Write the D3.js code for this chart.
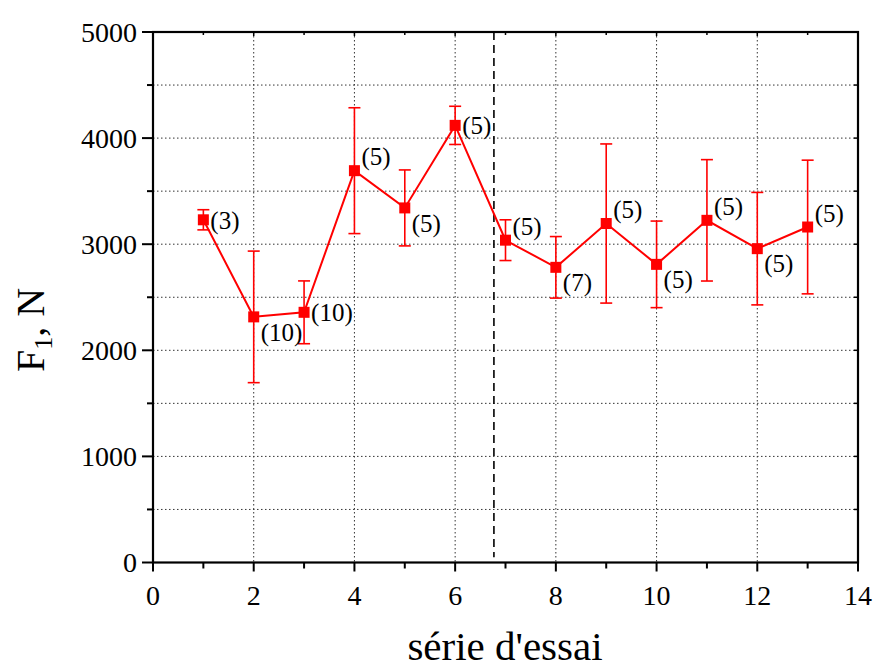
<!DOCTYPE html>
<html><head><meta charset="utf-8">
<script src="https://cdn.jsdelivr.net/npm/d3@7"></script>
<style>body{margin:0;background:#fff}svg{display:block}</style>
</head><body>
<svg id="c" width="876" height="669" font-family="'Liberation Serif', 'Times New Roman', serif"></svg>
<script>
const series = [1,2,3,4,5,6,7,8,9,10,11,12,13];
const meanF1 = [3230,2315,2358,3693,3342,4120,3038,2782,3195,2810,3225,2958,3162];
const errF1  = [95,620,296,593,358,180,192,290,750,408,572,530,630];
const nLabels = ["(3)","(10)","(10)","(5)","(5)","(5)","(5)","(7)","(5)","(5)","(5)","(5)","(5)"];
const labelPlace = ["r","br","r","ar","br","r","ar","br","ar","br","ar","br","ar"];
const xTicks = [0,2,4,6,8,10,12,14];
const yTicks = [0,1000,2000,3000,4000,5000];
const dividerX = 6.77;
const xTitle = "série d'essai";

const FF = "Liberation Serif";
const svg = d3.select("#c");
const L=153, R=858, T=32, B=562.5;
const x = d3.scaleLinear().domain([0,14]).range([L,R]);
const y = d3.scaleLinear().domain([0,5000]).range([B,T]);

// grid
const g = svg.append("g");
g.selectAll(".gx").data(xTicks.filter(v=>v>0&&v<14)).join("line")
  .attr("x1",d=>x(d)).attr("x2",d=>x(d)).attr("y1",T).attr("y2",B)
  .attr("stroke","#333").attr("stroke-width",1).attr("stroke-dasharray","1.5,2.5");
g.selectAll(".gy").data(d3.range(500,5000,500)).join("line")
  .attr("x1",L).attr("x2",R).attr("y1",d=>y(d)).attr("y2",d=>y(d))
  .attr("stroke","#333").attr("stroke-width",1).attr("stroke-dasharray","1.5,2.5");

// divider
svg.append("line").attr("x1",x(dividerX)).attr("x2",x(dividerX)).attr("y1",y(5000)).attr("y2",y(50))
  .attr("stroke","#000").attr("stroke-width",1.6).attr("stroke-dasharray","8,5");

// bottom axis
const bt = svg.append("g").attr("transform",`translate(0,${B})`);
bt.selectAll("line").data(d3.range(0,15,1)).join("line")
  .attr("x1",d=>x(d)).attr("x2",d=>x(d)).attr("y1",0).attr("y2",d=>d%2===0?9:6)
  .attr("stroke","#000").attr("stroke-width",2);
bt.selectAll("text").data(xTicks).join("text")
  .attr("x",d=>x(d)).attr("y",42).attr("text-anchor","middle")
  .attr("font-family",FF).attr("font-size",28).text(d=>d);

// left axis
const lt = svg.append("g");
lt.selectAll("line").data(d3.range(0,5001,500)).join("line")
  .attr("x1",d=>d%1000===0?L-11:L-6).attr("x2",L).attr("y1",d=>y(d)).attr("y2",d=>y(d))
  .attr("stroke","#000").attr("stroke-width",2);
lt.selectAll("text").data(yTicks).join("text")
  .attr("x",L-16).attr("y",d=>y(d)).attr("dy","0.34em").attr("text-anchor","end")
  .attr("font-family",FF).attr("font-size",28).text(d=>d);

// top/right inward ticks
svg.append("g").selectAll("line").data(d3.range(1,14,1)).join("line")
  .attr("x1",d=>x(d)).attr("x2",d=>x(d)).attr("y1",T).attr("y2",d=>d%2===0?T+4:T+3)
  .attr("stroke","#000").attr("stroke-width",1.5);
svg.append("g").selectAll("line").data(d3.range(500,5000,500)).join("line")
  .attr("x1",R).attr("x2",R-4).attr("y1",d=>y(d)).attr("y2",d=>y(d))
  .attr("stroke","#000").attr("stroke-width",1.5);

svg.append("rect").attr("x",L).attr("y",T).attr("width",R-L).attr("height",B-T)
  .attr("fill","none").attr("stroke","#000").attr("stroke-width",2.2);

// data
const red="#ff0000";
const pts = series.map((s,i)=>({s,m:meanF1[i],e:errF1[i],n:nLabels[i],p:labelPlace[i]}));
svg.append("path").datum(pts)
  .attr("d",d3.line().x(d=>x(d.s)).y(d=>y(d.m)))
  .attr("fill","none").attr("stroke",red).attr("stroke-width",2);
const eb = svg.append("g").attr("stroke",red).attr("stroke-width",1.6);
eb.selectAll(".v").data(pts).join("line")
  .attr("x1",d=>x(d.s)).attr("x2",d=>x(d.s)).attr("y1",d=>y(d.m-d.e)).attr("y2",d=>y(d.m+d.e));
eb.selectAll(".t").data(pts).join("line")
  .attr("x1",d=>x(d.s)-6).attr("x2",d=>x(d.s)+6).attr("y1",d=>y(d.m+d.e)).attr("y2",d=>y(d.m+d.e));
eb.selectAll(".b").data(pts).join("line")
  .attr("x1",d=>x(d.s)-6).attr("x2",d=>x(d.s)+6).attr("y1",d=>y(d.m-d.e)).attr("y2",d=>y(d.m-d.e));
svg.append("g").selectAll("rect").data(pts).join("rect")
  .attr("x",d=>x(d.s)-5.5).attr("y",d=>y(d.m)-5.5).attr("width",11).attr("height",11).attr("fill",red);

const dyMap={r:0,ar:-14,br:15};
svg.append("g").selectAll("text").data(pts).join("text")
  .attr("x",d=>x(d.s)+7).attr("y",d=>y(d.m)+dyMap[d.p]).attr("dy","0.35em")
  .attr("font-family",FF).attr("font-size",25).text(d=>d.n);

// titles
svg.append("text").attr("x",505).attr("y",660).attr("text-anchor","middle")
  .attr("font-family",FF).attr("font-size",41).text(xTitle);
const yt = svg.append("text").attr("transform","translate(44,330) rotate(-90)")
  .attr("text-anchor","middle").attr("font-family",FF).attr("font-size",40);
yt.append("tspan").text("F");
yt.append("tspan").attr("font-size",26).attr("dy",8).text("1");
yt.append("tspan").attr("dy",-8).text(", N");
</script>
</body></html>
